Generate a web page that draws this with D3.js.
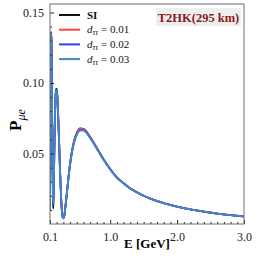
<!DOCTYPE html>
<html>
<head>
<meta charset="utf-8">
<script src="https://cdn.jsdelivr.net/npm/d3@7"></script>
<style>
  body { margin: 0; background: #fff; }
  text { font-family: "Liberation Serif", "DejaVu Serif", serif; }
</style>
</head>
<body>
<script>
// ------------  DATA  ------------
const energy = [0.100, 0.104, 0.108, 0.112, 0.117, 0.122, 0.127, 0.133, 0.139, 0.144,
  0.149, 0.155, 0.162, 0.170, 0.180, 0.190, 0.200, 0.210, 0.220, 0.235,
  0.250, 0.265, 0.280, 0.295, 0.310, 0.330, 0.350, 0.400, 0.450, 0.500,
  0.550, 0.600, 0.650, 0.700, 0.800, 0.900, 1.000, 1.100, 1.200, 1.300,
  1.400, 1.500, 1.600, 1.800, 2.000, 2.200, 2.400, 2.600, 2.800, 3.000];

const probSI = [0.010, 0.050, 0.100, 0.128, 0.136, 0.130, 0.105, 0.070, 0.038, 0.018,
  0.011, 0.019, 0.042, 0.066, 0.087, 0.095, 0.096, 0.091, 0.080, 0.060,
  0.038, 0.020, 0.008, 0.004, 0.005, 0.012, 0.021, 0.043, 0.057, 0.0645,
  0.0678, 0.0674, 0.0652, 0.0617, 0.0540, 0.0460, 0.0390, 0.0330, 0.0290, 0.0252,
  0.0225, 0.0200, 0.0180, 0.0148, 0.0124, 0.0104, 0.0088, 0.0074, 0.0063, 0.0054];

const probD1 = [0.012, 0.052, 0.100, 0.127, 0.135, 0.129, 0.106, 0.074, 0.046, 0.032,
  0.028, 0.033, 0.048, 0.068, 0.086, 0.094, 0.095, 0.090, 0.080, 0.060,
  0.038, 0.020, 0.008, 0.004, 0.005, 0.012, 0.021, 0.043, 0.057, 0.0643,
  0.0676, 0.0673, 0.0651, 0.0616, 0.0539, 0.0459, 0.0389, 0.0330, 0.0289, 0.0252,
  0.0225, 0.0200, 0.0180, 0.0148, 0.0124, 0.0104, 0.0088, 0.0074, 0.0063, 0.0054];

const probD2 = [0.011, 0.050, 0.099, 0.127, 0.135, 0.129, 0.104, 0.070, 0.040, 0.023,
  0.018, 0.024, 0.044, 0.066, 0.086, 0.094, 0.095, 0.090, 0.079, 0.059,
  0.038, 0.020, 0.008, 0.004, 0.005, 0.012, 0.021, 0.042, 0.056, 0.0636,
  0.0668, 0.0666, 0.0646, 0.0612, 0.0536, 0.0457, 0.0388, 0.0329, 0.0288, 0.0251,
  0.0224, 0.0200, 0.0180, 0.0148, 0.0124, 0.0104, 0.0088, 0.0074, 0.0063, 0.0054];

const probD3 = [0.010, 0.049, 0.099, 0.128, 0.135, 0.129, 0.104, 0.069, 0.038, 0.019,
  0.014, 0.021, 0.043, 0.066, 0.086, 0.094, 0.095, 0.090, 0.079, 0.059,
  0.037, 0.020, 0.008, 0.004, 0.005, 0.012, 0.021, 0.042, 0.056, 0.0632,
  0.0663, 0.0662, 0.0643, 0.0610, 0.0534, 0.0456, 0.0387, 0.0328, 0.0288, 0.0251,
  0.0224, 0.0200, 0.0180, 0.0148, 0.0124, 0.0104, 0.0088, 0.0074, 0.0063, 0.0054];

const seriesNames = ["SI", "0.01", "0.02", "0.03"];
const seriesColors = ["#111111", "#ff4545", "#3a3af5", "#3f8ac6"];
const seriesValues = [probSI, probD1, probD2, probD3];

const xTicks = [0.1, 1.0, 2.0, 3.0];
const yTicks = [0.05, 0.10, 0.15];

// ------------  PARAMETERS  ------------
const svgWidth = 258;
const svgHeight = 258;
const pad = [4, 14, 34, 50]; // top, right, bottom, left
const axisColor = "#6e6e6e";

const svg = d3.select("body").append("svg")
  .attr("width", svgWidth).attr("height", svgHeight);

// ------------  SCALES  ------------
const x = d3.scaleLinear().domain([0.1, 3.0]).range([pad[3], svgWidth - pad[1]]);
const y = d3.scaleLinear().domain([0, 0.156]).range([svgHeight - pad[2], pad[0]]);

svg.append("clipPath").attr("id", "clip")
  .append("rect")
  .attr("x", pad[3]).attr("y", pad[0])
  .attr("width", svgWidth - pad[1] - pad[3])
  .attr("height", svgHeight - pad[2] - pad[0]);

// ------------  LINES  ------------
const line = d3.line()
  .x((d, i) => x(energy[i]))
  .y(d => y(d))
  .curve(d3.curveMonotoneX);

svg.append("g").attr("clip-path", "url(#clip)")
  .selectAll("path")
  .data(seriesValues)
  .enter()
  .append("path")
  .attr("d", d => line(d))
  .attr("fill", "none")
  .attr("stroke", (d, i) => seriesColors[i])
  .attr("stroke-width", 1.8)
  .attr("stroke-linejoin", "round");

// ------------  AXIS  ------------
const xMinor = d3.range(2, 31).map(d => d / 10).filter(d => !xTicks.some(t => Math.abs(t - d) < 1e-6));
const yMinor = d3.range(1, 16).map(d => d / 100).filter(d => !yTicks.some(t => Math.abs(t - d) < 1e-6));

const xAxis = svg.append("g")
  .attr("transform", "translate(0," + y(0) + ")")
  .call(d3.axisBottom(x).tickValues(xTicks).tickFormat(d3.format(".1f")).tickSizeInner(-4).tickSizeOuter(0).tickPadding(8));

const xAxisMinor = svg.append("g")
  .attr("transform", "translate(0," + y(0) + ")")
  .call(d3.axisBottom(x).tickValues(xMinor).tickFormat("").tickSizeInner(-2).tickSizeOuter(0));

const yAxis = svg.append("g")
  .attr("transform", "translate(" + pad[3] + ",0)")
  .call(d3.axisLeft(y).tickValues(yTicks).tickFormat(d3.format(".2f")).tickSizeInner(-4).tickSizeOuter(0).tickPadding(6));

const yAxisMinor = svg.append("g")
  .attr("transform", "translate(" + pad[3] + ",0)")
  .call(d3.axisLeft(y).tickValues(yMinor).tickFormat("").tickSizeInner(-2).tickSizeOuter(0));

[xAxis, xAxisMinor, yAxis, yAxisMinor].forEach(g => {
  g.selectAll(".domain").remove();
  g.selectAll("line").attr("stroke", "#222");
  g.selectAll("text").attr("font-family", "Liberation Serif, serif").attr("font-size", 12).attr("fill", "#222");
});

// frame
svg.append("rect")
  .attr("x", pad[3]).attr("y", pad[0])
  .attr("width", svgWidth - pad[1] - pad[3])
  .attr("height", svgHeight - pad[2] - pad[0])
  .attr("fill", "none")
  .attr("stroke", axisColor)
  .attr("stroke-width", 1);

// axis labels
svg.append("text")
  .attr("x", (pad[3] + svgWidth - pad[1]) / 2)
  .attr("y", 248)
  .attr("text-anchor", "middle")
  .attr("font-weight", "bold")
  .attr("font-size", 13)
  .text("E [GeV]");

const yLabel = svg.append("text")
  .attr("transform", "translate(21,120) rotate(-90)")
  .attr("text-anchor", "middle")
  .attr("font-weight", "bold")
  .attr("font-size", 17);
yLabel.append("tspan").text("P");
yLabel.append("tspan").attr("font-size", 12).attr("font-style", "italic").attr("font-weight", "normal")
  .attr("dy", 4).text("μe");

// ------------  LEGEND  ------------
const legend = svg.append("g");
seriesNames.forEach((name, i) => {
  const ly = 15 + i * 14.7;
  legend.append("line")
    .attr("x1", 59).attr("x2", 80)
    .attr("y1", ly).attr("y2", ly)
    .attr("stroke", seriesColors[i])
    .attr("stroke-width", 2);
  const t = legend.append("text")
    .attr("x", 87).attr("y", ly + 3.5)
    .attr("font-size", 11)
    .attr("fill", "#111");
  if (i === 0) {
    t.attr("font-weight", "bold").text(name);
  } else {
    t.append("tspan").attr("font-style", "italic").text("d");
    t.append("tspan").attr("font-style", "italic").attr("font-size", 8).attr("dy", 2).text("ττ");
    t.append("tspan").attr("dy", -2).text(" = " + name);
  }
});

// ------------  TITLE BOX  ------------
svg.append("rect")
  .attr("x", 156).attr("y", 8)
  .attr("width", 85).attr("height", 18)
  .attr("fill", "#ececec")
  .attr("opacity", 0.9);

svg.append("text")
  .attr("x", 198.5).attr("y", 21.5)
  .attr("text-anchor", "middle")
  .attr("font-weight", "bold")
  .attr("font-size", 12.5)
  .attr("fill", "#8b1a1a")
  .text("T2HK(295 km)");
</script>
</body>
</html>
